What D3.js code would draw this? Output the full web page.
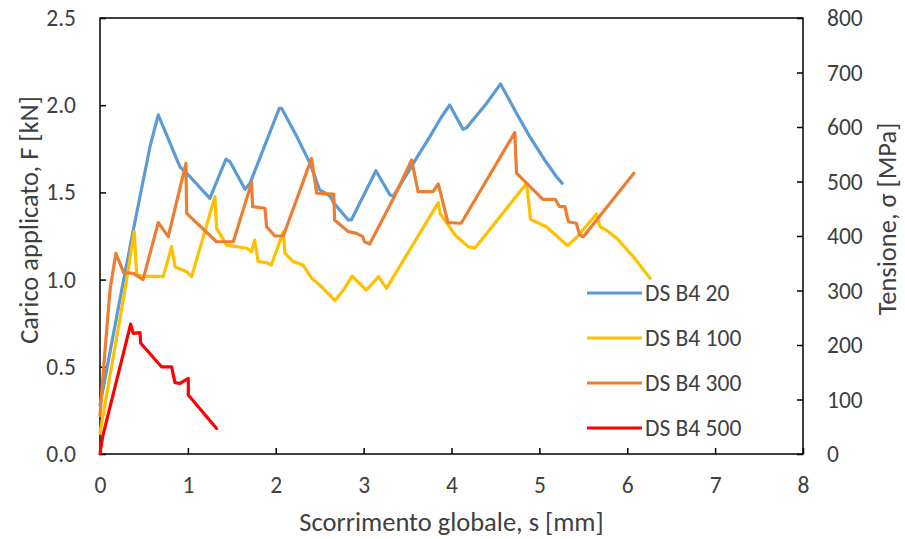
<!DOCTYPE html>
<html><head><meta charset="utf-8">
<script src="https://cdn.jsdelivr.net/npm/d3@7"></script>
<style>
body{margin:0;background:#fff;}
svg text{font-family:Calibri,Carlito,Lato,sans-serif;fill:#404040;}
</style></head>
<body><svg id="c" width="905" height="539"></svg>
<script>
const seriesNames = ["DS B4 20","DS B4 100","DS B4 300","DS B4 500"];
const seriesColors = ["#5B9BD5","#FFC000","#ED7D31","#FF0000"];
const xTicks = [0,1,2,3,4,5,6,7,8];
const yTicks = [0,0.5,1.0,1.5,2.0,2.5];
const y2Ticks = [0,100,200,300,400,500,600,700,800];

const s20 = [0,0.247,0.379,0.569,0.663,0.91,1.024,1.25,1.433,1.48,1.65,1.707,2.04,2.066,2.24,2.39,2.50,2.617,2.66,2.825,2.86,3.14,3.30,3.34,3.60,3.754,3.887,3.98,4.13,4.17,4.40,4.558,4.74,4.89,5.06,5.195,5.26];
const f20 = [0.28,0.94,1.284,1.762,1.944,1.647,1.59,1.466,1.69,1.676,1.518,1.552,1.982,1.982,1.82,1.667,1.514,1.479,1.44,1.342,1.342,1.624,1.485,1.479,1.695,1.82,1.934,2.001,1.862,1.87,2.011,2.122,1.954,1.82,1.686,1.59,1.552];

const s100 = [0,0.284,0.39,0.417,0.49,0.72,0.815,0.853,0.986,1.043,1.308,1.327,1.44,1.67,1.725,1.76,1.80,1.896,1.95,2.086,2.105,2.2,2.31,2.41,2.52,2.674,2.77,2.87,3.03,3.17,3.26,3.85,3.87,4.04,4.19,4.266,4.854,4.90,5.08,5.32,5.42,5.65,5.69,5.76,5.88,6.07,6.26];
const f100 = [0.12,0.94,1.275,1.026,1.02,1.017,1.19,1.074,1.045,1.017,1.475,1.294,1.198,1.18,1.16,1.227,1.103,1.097,1.084,1.275,1.151,1.103,1.084,1.007,0.96,0.879,0.94,1.02,0.94,1.017,0.95,1.441,1.38,1.256,1.189,1.18,1.552,1.346,1.303,1.195,1.24,1.376,1.303,1.284,1.237,1.131,1.007];

const s300 = [0,0.05,0.114,0.18,0.27,0.38,0.49,0.663,0.777,0.978,0.986,1.327,1.517,1.725,1.737,1.877,1.896,1.99,2.086,2.408,2.465,2.66,2.67,2.825,2.92,2.99,3.01,3.07,3.34,3.546,3.62,3.79,3.85,3.96,4.11,4.72,4.74,5.04,5.18,5.23,5.29,5.33,5.42,5.46,5.50,6.075];
const f300 = [0.22,0.55,0.94,1.15,1.04,1.036,1.0,1.327,1.246,1.667,1.38,1.217,1.217,1.556,1.418,1.409,1.303,1.25,1.25,1.695,1.495,1.49,1.342,1.275,1.265,1.246,1.217,1.204,1.466,1.686,1.504,1.504,1.548,1.327,1.323,1.843,1.61,1.46,1.46,1.418,1.418,1.332,1.323,1.256,1.246,1.61];

const s500 = [0,0.03,0.349,0.379,0.455,0.463,0.70,0.815,0.853,0.91,1.005,1.005,1.327];
const f500 = [0,0.1,0.745,0.692,0.696,0.635,0.50,0.50,0.409,0.405,0.434,0.338,0.146];

const seriesX = [s20,s100,s300,s500];
const seriesY = [f20,f100,f300,f500];

const L=100,R=803,T=18,B=454;
const svg = d3.select("#c");
const x = d3.scaleLinear().domain([0,8]).range([L,R]);
const y = d3.scaleLinear().domain([0,2.5]).range([B,T]);
const y2 = d3.scaleLinear().domain([0,800]).range([B,T]);

const fs = 23.5, fsTitle = 26.5;
const gx = svg.append("g").attr("transform",`translate(0,${B})`)
  .call(d3.axisBottom(x).tickValues(xTicks).tickSizeInner(-6).tickSizeOuter(0).tickPadding(22).tickFormat(d3.format("d")));
const gy = svg.append("g").attr("transform",`translate(${L},0)`)
  .call(d3.axisLeft(y).tickValues(yTicks).tickSizeInner(-6).tickSizeOuter(0).tickPadding(24).tickFormat(d3.format(".1f")));
const gy2 = svg.append("g").attr("transform",`translate(${R},0)`)
  .call(d3.axisRight(y2).tickValues(y2Ticks).tickSizeInner(-6).tickSizeOuter(0).tickPadding(24).tickFormat(d3.format("d")));
[gx,gy,gy2].forEach(g=>{
  g.select(".domain").remove();
  g.selectAll(".tick line").attr("stroke","#000").attr("stroke-width",1.5);
  g.selectAll(".tick text").attr("font-size",fs).attr("font-family",null).attr("fill","#404040");
});
svg.append("rect").attr("x",L).attr("y",T).attr("width",R-L).attr("height",B-T)
  .attr("fill","none").attr("stroke","#000").attr("stroke-width",1.5);

const line = d3.line().x(d=>x(d[0])).y(d=>y(d[1]));
seriesX.forEach((sx,i)=>{
  const pts = sx.map((v,j)=>[v,seriesY[i][j]]);
  svg.append("path").datum(pts).attr("d",line).attr("fill","none")
    .attr("stroke",seriesColors[i]).attr("stroke-width",3.2).attr("stroke-linejoin","round").attr("stroke-linecap","round");
});

svg.append("text").attr("x",(L+R)/2).attr("y",531).attr("text-anchor","middle").attr("font-size",fsTitle).text("Scorrimento globale, s [mm]");
svg.append("text").attr("transform",`translate(38,220) rotate(-90)`).attr("text-anchor","middle").attr("font-size",fsTitle).text("Carico applicato, F [kN]");
svg.append("text").attr("transform",`translate(896,219) rotate(-90)`).attr("text-anchor","middle").attr("font-size",fsTitle).text("Tensione, σ [MPa]");

const legY = [293,338,383,428];
seriesNames.forEach((n,i)=>{
  svg.append("line").attr("x1",587).attr("x2",642).attr("y1",legY[i]).attr("y2",legY[i])
    .attr("stroke",seriesColors[i]).attr("stroke-width",3.2);
  svg.append("text").attr("x",645).attr("y",legY[i]+7.5).attr("font-size",fs).text(n);
});
</script></body></html>
